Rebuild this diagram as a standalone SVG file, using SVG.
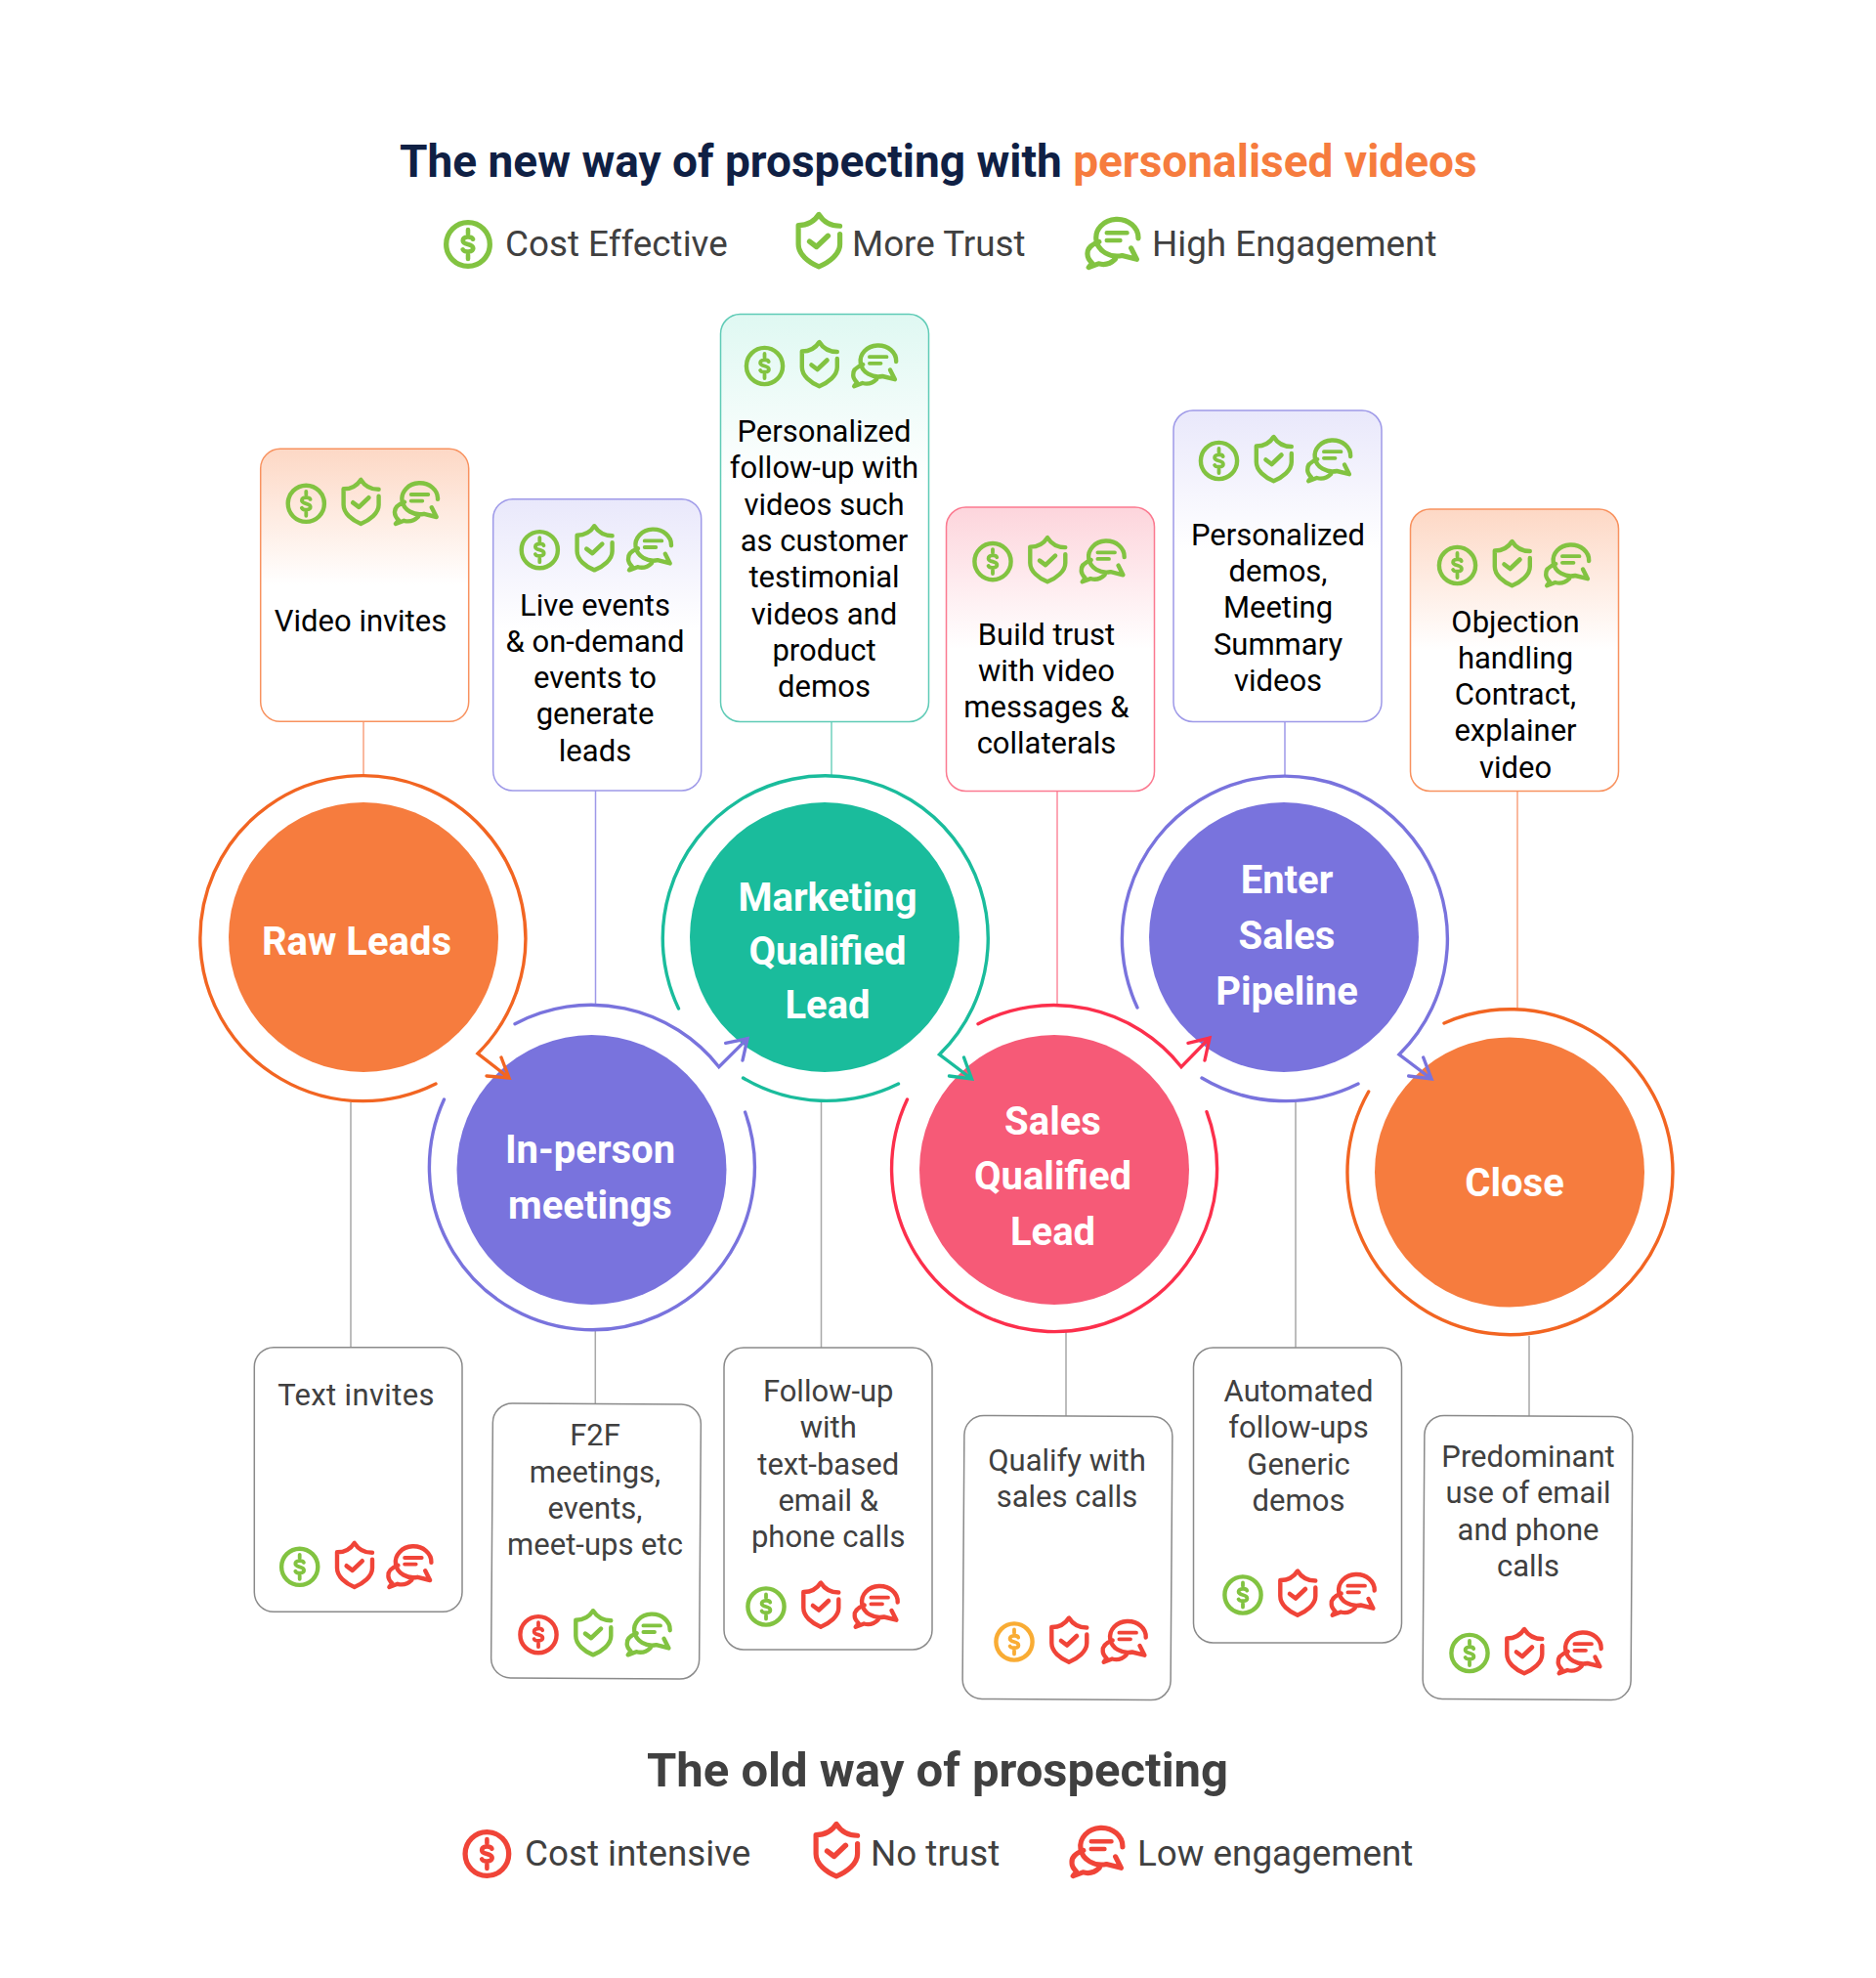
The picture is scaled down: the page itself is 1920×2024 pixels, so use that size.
<svg xmlns="http://www.w3.org/2000/svg" width="1920" height="2024" viewBox="0 0 1920 2024">
<style>
.g{color:#82c341}.r{color:#f04438}.a{color:#f9ac34}
.ic{fill:none;stroke:currentColor;stroke-width:4.4;stroke-linecap:round;stroke-linejoin:round}
.t{font-family:Roboto,"Liberation Sans",sans-serif;font-size:31px;text-anchor:middle;fill:#000}
.b{fill:#404040}
.h{font-family:Roboto,"Liberation Sans",sans-serif;font-weight:700;font-size:46px;fill:#0f2044}
.o{font-family:Roboto,"Liberation Sans",sans-serif;font-weight:700;font-size:49px;fill:#404040}
.l{font-family:Roboto,"Liberation Sans",sans-serif;font-size:36.8px;fill:#404040}
.n{font-family:Roboto,"Liberation Sans",sans-serif;font-weight:700;font-size:40px;text-anchor:middle;fill:#fff}
.ring{fill:none;stroke-width:3.4;stroke-linecap:round;stroke-linejoin:miter}
.box{stroke-width:1.5}
.gb{fill:#fff;stroke:#8a8a8a;stroke-width:1.5}
.cl{stroke-width:1.5;fill:none}
.cg{stroke:#a8a8a8}
</style>
<defs>
<g id="d" class="ic"><circle r="18.6"/><path d="M4.2 -4.4C3.4 -7 -4.4 -7 -4.4 -3.2C-4.4 1 4.4 -1 4.4 3.4C4.4 7 -3.4 7 -4.4 4.4" stroke-width="3.8"/><path d="M0 -12.5V-9M0 9V12.5" stroke-width="3.8"/></g>
<g id="s" class="ic"><path d="M18.3 -12.5C11 -12.5 4 -16 0 -22.5C-4 -16 -11 -13 -17.7 -13V3.3C-17.7 12 -9 19 0 22.7C9 19 18.3 12 18.3 3.3V-5.5"/><path d="M-8 1L-2 5.5L8 -4" stroke-width="4.6"/></g>
<g id="c" class="ic"><path d="M22 -3.5A18.3 16 0 1 0 8 11.5L20.7 14.7L15.8 5M-12 -0.5C-19 2 -22.5 6 -22 10.5C-22 14 -20 16 -18 18L-21 21.7L-12.5 18.5C-7 20 -2 18.5 2 14.5"/><path d="M-5.3 -8.3H12.3M-5.3 -1.7H6.3" stroke-width="3.8"/></g>
<g id="ggg"><use href="#d" class="g"/><use href="#s" x="56" y="-2" class="g"/><use href="#c" x="112.7" y="-1" class="g"/></g>
<g id="grr"><use href="#d" class="g"/><use href="#s" x="56" y="-2" class="r"/><use href="#c" x="112.7" y="-1" class="r"/></g>
<linearGradient id="go" x1="0" y1="0" x2="0" y2="1"><stop offset="0" stop-color="#fdd8c5"/><stop offset="0.5" stop-color="#fff"/></linearGradient>
<linearGradient id="gp" x1="0" y1="0" x2="0" y2="1"><stop offset="0" stop-color="#e9e8fb"/><stop offset="0.45" stop-color="#fff"/></linearGradient>
<linearGradient id="gt" x1="0" y1="0" x2="0" y2="1"><stop offset="0" stop-color="#dff8f2"/><stop offset="0.42" stop-color="#fff"/></linearGradient>
<linearGradient id="gk" x1="0" y1="0" x2="0" y2="1"><stop offset="0" stop-color="#fdd5dc"/><stop offset="0.5" stop-color="#fff"/></linearGradient>
</defs>
<g id="connectors">
<path class="cl" stroke="#f8a27f" d="M372 738V793"/>
<path class="cl" stroke="#9e99e8" d="M609.5 809V1028"/>
<path class="cl" stroke="#6fd0bd" d="M851 738V793"/>
<path class="cl" stroke="#fb8a9c" d="M1082 809V1028"/>
<path class="cl" stroke="#9e99e8" d="M1315 738V793"/>
<path class="cl" stroke="#f8a27f" d="M1553 809V1032"/>
<path class="cl cg" d="M359 1128V1379M609.3 1362V1436M840.5 1128V1379M1091 1362V1449M1326 1128V1379M1565 1367V1449"/>
</g>
<g id="title">
<text class="h" x="409" y="181">The new way of prospecting with <tspan fill="#f67c3e">personalised videos</tspan></text>
<use href="#d" class="g" transform="translate(479 250) scale(1.2)"/><text class="l" x="517" y="262">Cost Effective</text>
<use href="#s" class="g" transform="translate(838 246) scale(1.18)"/><text class="l" x="872" y="262">More Trust</text>
<use href="#c" class="g" transform="translate(1139 248) scale(1.18)"/><text class="l" x="1179" y="262">High Engagement</text>
</g>
<g id="old-title">
<text class="o" x="662" y="1828">The old way of prospecting</text>
<use href="#d" class="r" transform="translate(498.4 1897) scale(1.2)"/><text class="l" x="537" y="1909">Cost intensive</text>
<use href="#s" class="r" transform="translate(856 1893) scale(1.18)"/><text class="l" x="891" y="1909">No trust</text>
<use href="#c" class="r" transform="translate(1123 1894) scale(1.18)"/><text class="l" x="1164" y="1909">Low engagement</text>
</g>
<g id="box-video-invites">
<rect class="box" x="266.7" y="459.3" width="213" height="279" rx="20" fill="url(#go)" stroke="#f8925f"/>
<use href="#ggg" x="313.3" y="515.3"/>
<text class="t" x="369" y="646">Video invites</text>
</g>
<g id="box-live-events">
<rect class="box" x="504.7" y="510.7" width="213" height="298.3" rx="20" fill="url(#gp)" stroke="#9e99e8"/>
<use href="#ggg" x="552.3" y="562.7"/>
<text class="t" x="609" y="629.5">Live events</text><text class="t" x="609" y="666.8">&amp; on-demand</text><text class="t" x="609" y="704.1">events to</text><text class="t" x="609" y="741.4">generate</text><text class="t" x="609" y="778.7">leads</text>
</g>
<g id="box-personalized-followup">
<rect class="box" x="737.5" y="321.5" width="213" height="417" rx="20" fill="url(#gt)" stroke="#5fcbb6"/>
<use href="#ggg" x="782.5" y="374.5"/>
<text class="t" x="843.5" y="452">Personalized</text><text class="t" x="843.5" y="489.3">follow-up with</text><text class="t" x="843.5" y="526.6">videos such</text><text class="t" x="843.5" y="563.9">as customer</text><text class="t" x="843.5" y="601.2">testimonial</text><text class="t" x="843.5" y="638.5">videos and</text><text class="t" x="843.5" y="675.8">product</text><text class="t" x="843.5" y="713">demos</text>
</g>
<g id="box-build-trust">
<rect class="box" x="968.5" y="519" width="213" height="290.5" rx="20" fill="url(#gk)" stroke="#fb7a90"/>
<use href="#ggg" x="1016" y="574.6"/>
<text class="t" x="1071" y="659.5">Build trust</text><text class="t" x="1071" y="696.8">with video</text><text class="t" x="1071" y="734.1">messages &amp;</text><text class="t" x="1071" y="771.4">collaterals</text>
</g>
<g id="box-personalized-demos">
<rect class="box" x="1201" y="420" width="213" height="318.5" rx="20" fill="url(#gp)" stroke="#9e99e8"/>
<use href="#ggg" x="1247.5" y="471.5"/>
<text class="t" x="1308" y="557.6">Personalized</text><text class="t" x="1308" y="594.9">demos,</text><text class="t" x="1308" y="632.2">Meeting</text><text class="t" x="1308" y="669.5">Summary</text><text class="t" x="1308" y="706.8">videos</text>
</g>
<g id="box-objection">
<rect class="box" x="1443.5" y="521" width="213" height="288.5" rx="20" fill="url(#go)" stroke="#f8925f"/>
<use href="#ggg" x="1491.5" y="578.5"/>
<text class="t" x="1551" y="646.5">Objection</text><text class="t" x="1551" y="683.8">handling</text><text class="t" x="1551" y="721.1">Contract,</text><text class="t" x="1551" y="758.4">explainer</text><text class="t" x="1551" y="795.7">video</text>
</g>
<g id="box-text-invites">
<rect class="gb" x="260.3" y="1378.7" width="212.7" height="270.6" rx="20"/>
<use href="#grr" x="306.7" y="1603.3"/>
<text class="t b" x="364.5" y="1438" style="letter-spacing:.35px">Text invites</text>
</g>
<g id="box-f2f">
<rect class="gb" x="503.5" y="1436.5" width="213" height="281" rx="20" transform="rotate(0.4 610 1577)"/>
<use href="#d" x="551" y="1672.7" class="r"/><use href="#s" x="607" y="1670.7" class="g"/><use href="#c" x="663.7" y="1671.7" class="g"/>
<text class="t b" x="609" y="1479.3">F2F</text><text class="t b" x="609" y="1516.6">meetings,</text><text class="t b" x="609" y="1553.9">events,</text><text class="t b" x="609" y="1591.2">meet-ups etc</text>
</g>
<g id="box-followup">
<rect class="gb" x="741" y="1379" width="213" height="309" rx="20"/>
<use href="#grr" x="784" y="1644"/>
<text class="t b" x="847.7" y="1434">Follow-up</text><text class="t b" x="847.7" y="1471.3">with</text><text class="t b" x="847.7" y="1508.6">text-based</text><text class="t b" x="847.7" y="1545.9">email &amp;</text><text class="t b" x="847.7" y="1583.2">phone calls</text>
</g>
<g id="box-qualify">
<rect class="gb" x="986" y="1449" width="213" height="290" rx="20" transform="rotate(0.4 1092 1594)"/>
<use href="#d" x="1038" y="1680" class="a"/><use href="#s" x="1094" y="1678" class="r"/><use href="#c" x="1150.7" y="1679" class="r"/>
<text class="t b" x="1092" y="1505">Qualify with</text><text class="t b" x="1092" y="1542.3">sales calls</text>
</g>
<g id="box-automated">
<rect class="gb" x="1221.5" y="1379" width="213" height="302" rx="20"/>
<use href="#grr" x="1272" y="1632"/>
<text class="t b" x="1329" y="1434">Automated</text><text class="t b" x="1329" y="1471.3">follow-ups</text><text class="t b" x="1329" y="1508.6">Generic</text><text class="t b" x="1329" y="1545.9">demos</text>
</g>
<g id="box-predominant">
<rect class="gb" x="1457" y="1449" width="213" height="290" rx="20" transform="rotate(0.4 1565 1594)"/>
<use href="#grr" x="1504" y="1691.5"/>
<text class="t b" x="1564" y="1501">Predominant</text><text class="t b" x="1564" y="1538.3">use of email</text><text class="t b" x="1564" y="1575.6">and phone</text><text class="t b" x="1564" y="1612.9">calls</text>
</g>
<g id="node-close">
<circle cx="1545" cy="1199.5" r="138" fill="#f67c3e"/>
<path class="ring" stroke="#f26522" d="M1478 1047A166.5 166.5 0 1 1 1400.7 1117"/>
<text class="n" x="1550" y="1224">Close</text>
</g>
<g id="node-enter">
<circle cx="1314" cy="959" r="138" fill="#7973dd"/>
<path class="ring" stroke="#7973dd" d="M1230 1103A166.5 166.5 0 0 0 1390 1109M1164 1031A166.5 166.5 0 1 1 1432 1079L1465 1104M1456.7 1082L1465 1104L1441.7 1101"/>
<text class="n" x="1317" y="914">Enter</text><text class="n" x="1317" y="971">Sales</text><text class="n" x="1317" y="1027.5">Pipeline</text>
</g>
<g id="node-sales">
<circle cx="1079" cy="1197" r="138" fill="#f65a77"/>
<path class="ring" stroke="#fc2f4c" d="M1001 1047.7A166.5 166.5 0 0 1 1209 1091.7L1238 1062M1216 1067.3L1238 1062L1233 1085M1235 1137.7A166.5 166.5 0 1 1 928.5 1125"/>
<text class="n" x="1077.5" y="1160.5">Sales</text><text class="n" x="1077.5" y="1217">Qualified</text><text class="n" x="1077.5" y="1274">Lead</text>
</g>
<g id="node-marketing">
<circle cx="844" cy="959" r="138" fill="#1abc9c"/>
<path class="ring" stroke="#1abc9c" d="M760.5 1103A166.5 166.5 0 0 0 919.5 1109M694.5 1032A166.5 166.5 0 1 1 961.5 1079L994.5 1104M986.5 1082L994.5 1104L971.5 1101"/>
<text class="n" x="847" y="932">Marketing</text><text class="n" x="847" y="986.5">Qualified</text><text class="n" x="847" y="1042">Lead</text>
</g>
<g id="node-in-person">
<circle cx="605.5" cy="1197" r="138" fill="#7973dd"/>
<path class="ring" stroke="#7973dd" d="M527 1047.7A166.5 166.5 0 0 1 735.8 1091.7L765 1062.7M742.7 1067.3L765 1062.7L760 1085M762.6 1138A166.5 166.5 0 1 1 454.5 1125"/>
<text class="n" x="604" y="1190">In-person</text><text class="n" x="604" y="1247">meetings</text>
</g>
<g id="node-raw-leads">
<circle cx="372" cy="959" r="138" fill="#f67c3e"/>
<path class="ring" stroke="#f26522" d="M446 1109A166.5 166.5 0 1 1 489 1078L521 1103M513 1082L521 1103L498 1101"/>
<text class="n" x="365" y="977">Raw Leads</text>
</g>
</svg>
